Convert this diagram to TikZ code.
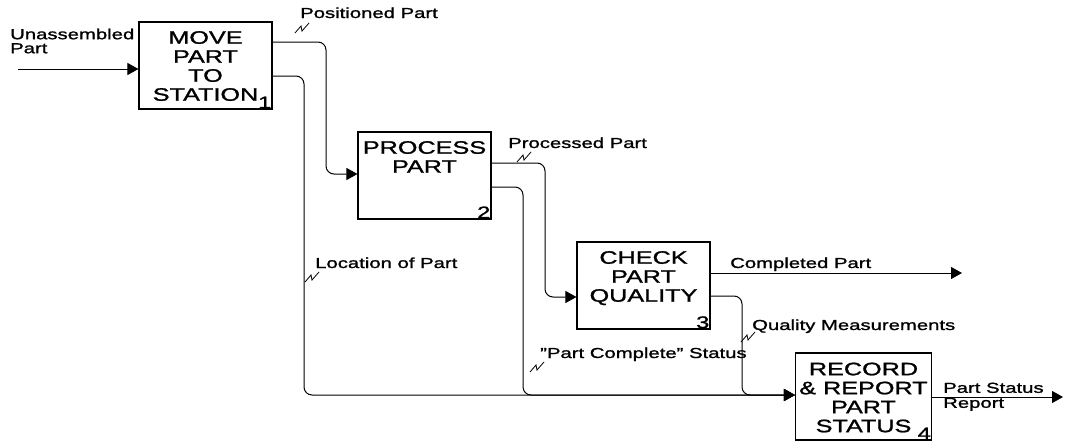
\documentclass[tikz,border=0pt]{standalone}
\usepackage{fontspec}
\setmainfont{Liberation Sans}[FakeStretch=1.4,FakeBold=1.3]
\usetikzlibrary{arrows.meta}
\tikzset{
  squiggle/.pic={\draw[line width=0.8pt] (-7,5) -- (-1,-2) -- (0,3) -- (7,-5);}
}
\begin{document}
\begin{tikzpicture}[x=1pt,y=-1pt,
  box/.style={draw, line width=1.1pt, minimum width=133pt, minimum height=87pt, inner sep=0},
  boxtext/.style={anchor=north, inner sep=0, align=center, font=\fontsize{18}{19}\selectfont},
  num/.style={anchor=south east, inner sep=1pt, font=\fontsize{17}{17}\selectfont},
  lbl/.style={anchor=base west, inner sep=0, font=\fontsize{14.5}{14}\selectfont},
  lbltwo/.style={anchor=north west, inner sep=0, align=left, font=\fontsize{14.5}{14}\selectfont},
  flow/.style={line width=1pt, rounded corners=8pt},
  arr/.style={-{Triangle[length=11pt,width=12pt]}}]
\useasboundingbox (0,0) rectangle (1070,442);

% boxes
\node[box] (b1) at (205.5,65.5) {};
\node[boxtext] (t1) at ([yshift=-9.5pt]b1.north) {MOVE\\PART\\TO\\STATION};
\node[num] (n1) at (b1.south east) {1};

\node[box] (b2) at (424.5,175.5) {};
\node[boxtext] (t2) at ([yshift=-9.5pt]b2.north) {PROCESS\\PART};
\node[num] (n2) at (b2.south east) {2};

\node[box] (b3) at (643.5,285.5) {};
\node[boxtext] (t3) at ([yshift=-9.5pt]b3.north) {CHECK\\PART\\QUALITY};
\node[num] (n3) at (b3.south east) {3};

\node[box, minimum width=136pt] (b4) at (863.5,396.5) {};
\node[boxtext] (t4) at ([yshift=-10pt]b4.north) {RECORD\\\&~REPORT\\PART\\STATUS};
\node[num] (n4) at (b4.south east) {4};

% free ends
\coordinate (in0) at (18,69);
\coordinate (out3) at (962,273);
\coordinate (out4) at (1063,397);

% connectors
\draw[flow,arr] (in0) -- (b1.west |- in0);
\draw[flow,arr] (b1.east |- 0,42) -| (326,174) -- (b2.west |- 0,174);
\draw[flow,arr] (b1.east |- 0,76) -| (304,395) -- (b4.west |- 0,395);
\draw[flow,arr] (b2.east |- 0,163) -| (545,297) -- (b3.west |- 0,297);
\draw[flow,arr] (b2.east |- 0,187) -| (523,395) -- (b4.west |- 0,395);
\draw[flow,arr] (b3.east |- 0,273) -- (out3);
\draw[flow,arr] (b3.east |- 0,296) -| (742,395) -- (b4.west |- 0,395);
\draw[flow,arr] (b4.east |- out4) -- (out4);

% labels
\node[lbltwo] (l0) at (10,28.5) {Unassembled\\Part};
\node[lbl] (l1) at (300,18) {Positioned Part};
\node[lbl] (l2) at (315,268) {Location of Part};
\node[lbl] (l3) at (508,148) {Processed Part};
\node[lbl] (l4) at (730,268) {Completed Part};
\node[lbl] (l5) at (752,330) {Quality Measurements};
\node[lbl] (l6) at (540,358) {"Part Complete" Status};
\node[lbltwo, font=\fontsize{14.5}{15}\selectfont] (l7) at (943,382.5) {Part Status\\Report};

% squiggles
\pic at (302,28) {squiggle};
\pic at (524,157) {squiggle};
\pic at (312,277) {squiggle};
\pic at (537,367) {squiggle};
\pic at (748,337) {squiggle};
\end{tikzpicture}
\end{document}
